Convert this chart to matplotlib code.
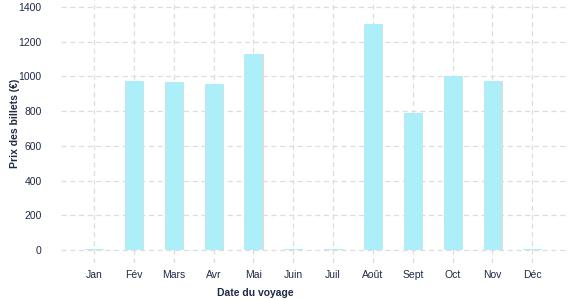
import matplotlib
matplotlib.use("Agg")
import matplotlib.pyplot as plt
import numpy as np

# Prix moyen des billets par mois de voyage
mois = ["Jan", "Fév", "Mars", "Avr", "Mai", "Juin", "Juil",
        "Août", "Sept", "Oct", "Nov", "Déc"]
prix = [5, 973, 968, 955, 1130, 5, 5, 1302, 789, 1002, 973, 5]
y_ticks = [0, 200, 400, 600, 800, 1000, 1200, 1400]

navy = "#1f2a44"
bar_color = "#adeff8"
shadow_color = "#dcdcdc"

plt.rcParams['font.family'] = ['Liberation Sans', 'DejaVu Sans']

fig = plt.figure(figsize=(5.77, 3.0), dpi=100)
ax = fig.add_axes([61 / 577, 1 - 263 / 300, 506 / 577, 263 / 300])

x = np.arange(len(mois))
w = 0.45
# légère ombre à droite des barres
ax.bar(x + 0.03, prix, width=w, color=shadow_color, zorder=2)
ax.bar(x, prix, width=w, color=bar_color, zorder=3)

ax.set_xlim(-0.83, 11.87)
ax.set_ylim(-75, 1440)
ax.set_xticks(x)
ax.set_xticklabels(mois)
ax.set_yticks(y_ticks)

ax.grid(True, color="#dddddd", linestyle=(0, (4, 3)), linewidth=0.9, zorder=0)
for s in ax.spines.values():
    s.set_visible(False)
ax.tick_params(length=0, labelsize=7.5, labelcolor=navy)
ax.tick_params(axis='x', pad=5)
ax.tick_params(axis='y', pad=14)

ax.set_ylabel("Prix des billets (€)", fontsize=7.5, fontweight='bold',
              color=navy)
ax.yaxis.set_label_coords(-0.081, 0.53)
ax.set_xlabel("Date du voyage", fontsize=7.5, fontweight='bold', color=navy)
ax.xaxis.set_label_coords(0.385, -0.095)

fig.savefig("out.png", dpi=100)
